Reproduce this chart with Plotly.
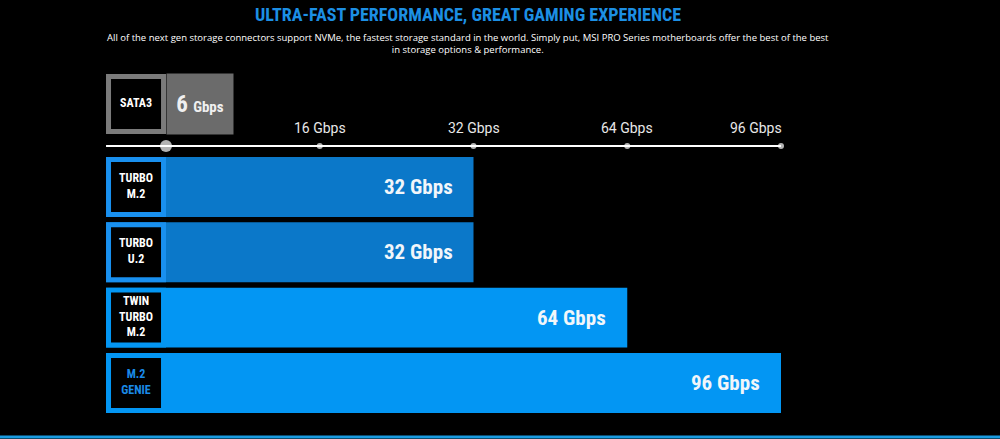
import numpy as np
import plotly.graph_objects as go

# ---------------- data ----------------
categories = ["SATA3", "TURBO<br>M.2", "TURBO<br>U.2", "TWIN<br>TURBO<br>M.2", "M.2<br>GENIE"]
speeds_gbps = [6, 32, 32, 64, 96]
value_labels = ["6 Gbps", "32 Gbps", "32 Gbps", "64 Gbps", "96 Gbps"]
tick_values = [6, 16, 32, 64, 96]
tick_labels = ["", "16 Gbps", "32 Gbps", "64 Gbps", "96 Gbps"]

title_text = "ULTRA-FAST PERFORMANCE, GREAT GAMING EXPERIENCE"
subtitle_text = ("All of the next gen storage connectors support NVMe, the fastest storage standard in the world. "
                 "Simply put, MSI PRO Series motherboards offer the best of the best<br>"
                 "in storage options &amp; performance.")

# ---------------- scale (ordinal, evenly spaced ticks) ----------------
scale_domain = [0, 6, 16, 32, 64, 96]
scale_range = [-0.39, 0, 1, 2, 3, 4]


def sx(v):
    return np.interp(v, scale_domain, scale_range)


# ---------------- styling ----------------
rows = [-0.27, 1, 2, 3, 4]
axis_row = 0.373
bar_width = 0.918
bar_colors = ["#767676", "#0b78c9", "#0b78c9", "#0396f3", "#0396f3"]
tile_colors = ["#7b7b7b", "#1990ef", "#1990ef", "#0396f3", "#0396f3"]
label_colors = ["white", "white", "white", "white", "#1a8ae8"]
BOLD_FONT = "Roboto Condensed, Liberation Sans Narrow, Roboto, sans-serif"

fig = go.Figure()

x0 = float(sx(0))
# main bars
fig.add_trace(go.Bar(
    orientation="h", y=rows, x=[float(sx(v)) - x0 for v in speeds_gbps], base=x0,
    width=bar_width, marker=dict(color=bar_colors, line=dict(width=0)), hoverinfo="skip",
))
# label tiles (0 -> 6 Gbps segment)
fig.add_trace(go.Bar(
    orientation="h", y=rows, x=[float(sx(6)) - x0] * len(rows), base=x0,
    width=bar_width, marker=dict(color=tile_colors, line=dict(width=0)), hoverinfo="skip",
))
# black label squares with category names
fig.add_trace(go.Scatter(
    x=[float(sx(3))] * len(rows), y=rows, mode="markers+text",
    marker=dict(symbol="square", size=50, color="black", line=dict(width=0)),
    text=["<b>%s</b>" % c for c in categories], textposition="middle center",
    textfont=dict(family=BOLD_FONT, size=12, color=label_colors), hoverinfo="skip",
))
# axis line
fig.add_trace(go.Scatter(
    x=[x0, float(sx(max(tick_values)))], y=[axis_row, axis_row], mode="lines",
    line=dict(color="white", width=2), hoverinfo="skip",
))
# axis dots
fig.add_trace(go.Scatter(
    x=[float(sx(v)) for v in tick_values], y=[axis_row] * len(tick_values), mode="markers",
    marker=dict(color="white", size=[12, 6, 6, 6, 6], line=dict(width=0)), hoverinfo="skip",
))

annotations = []
# tick labels (last one aligned to the end of the axis)
for i, (v, t) in enumerate(zip(tick_values, tick_labels)):
    if t:
        last = i == len(tick_values) - 1
        annotations.append(dict(x=float(sx(v)), y=axis_row, xref="x", yref="y", text=t,
                                showarrow=False, yanchor="bottom", yshift=8,
                                xanchor="right" if last else "center", xshift=3 if last else 0,
                                font=dict(family="Roboto", size=14, color="#e8e8e8")))
# value labels on bars
for r, v, lab in zip(rows[1:], speeds_gbps[1:], value_labels[1:]):
    annotations.append(dict(x=float(sx(v)), y=r, xref="x", yref="y", text="<b>%s</b>" % lab,
                            showarrow=False, xanchor="right", xshift=-19,
                            font=dict(family=BOLD_FONT, size=21, color="#f2f6fa")))
# SATA value box
num, unit = value_labels[0].split(" ")
annotations.append(dict(x=float(sx(6)), y=rows[0], xref="x", yref="y",
                        text="<b>%s</b> <b><span style='font-size:15px'>%s</span></b>" % (num, unit),
                        showarrow=False, xanchor="left", yanchor="middle",
                        width=66, height=60, borderpad=0, bgcolor="#6b6b6b", align="center",
                        font=dict(family=BOLD_FONT, size=23, color="#f0f0f0")))
# title & subtitle
annotations.append(dict(x=0.468, y=1 - 15 / 439, xref="paper", yref="paper", text="<b>%s</b>" % title_text,
                        showarrow=False, xanchor="center", yanchor="middle",
                        font=dict(family=BOLD_FONT, size=18, color="#1c8fe4")))
annotations.append(dict(x=0.468, y=1 - 43.5 / 439, xref="paper", yref="paper", text=subtitle_text,
                        showarrow=False, xanchor="center", yanchor="middle", align="center",
                        font=dict(family="Open Sans", size=9.5, color="white")))

fig.update_layout(
    width=1000, height=439, margin=dict(l=0, r=0, t=0, b=0),
    paper_bgcolor="black", plot_bgcolor="black", showlegend=False, barmode="overlay",
    xaxis=dict(range=[-1.0797, 5.4244], visible=False, fixedrange=True),
    yaxis=dict(range=[4.858, -1.862], visible=False, fixedrange=True),
    annotations=annotations,
    shapes=[dict(type="line", xref="paper", yref="paper", x0=0, x1=1, y0=2 / 439, y1=2 / 439,
                 line=dict(color="#1a9be0", width=3))],
)

fig.write_html("out.html")
